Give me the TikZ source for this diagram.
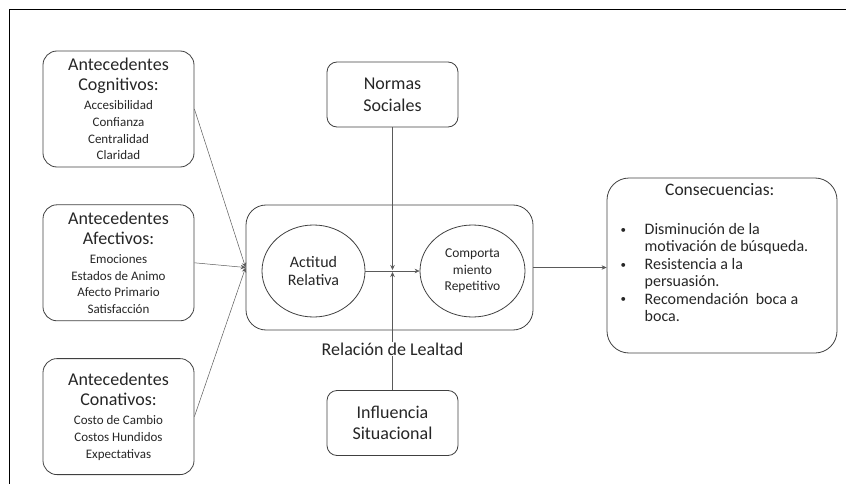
\documentclass[tikz,border=0pt]{standalone}
\usepackage{fontspec}
\setmainfont{Carlito}
\usetikzlibrary{arrows.meta,shapes,positioning,calc}
\definecolor{boxgray}{HTML}{404040}
\definecolor{linegray}{HTML}{5A5A5A}
\definecolor{txtgray}{HTML}{262626}
\newcommand{\ttlfont}{\fontsize{18}{20}\selectfont}
\newcommand{\itm}{\makebox[27pt][l]{\hspace*{3pt}\raisebox{1.2pt}{\fontsize{11}{11}\selectfont\textbullet}}}
\tikzset{
    antbox/.style={
        rectangle,
        rounded corners=14pt,
        draw=boxgray,
        line width=0.8pt,
        minimum width=151pt,
        minimum height=116pt,
        align=center,
        text=txtgray,
        font=\fontsize{13}{16.7}\selectfont,
    },
    factbox/.style={
        rectangle,
        rounded corners=10pt,
        draw=boxgray,
        line width=0.8pt,
        minimum width=131pt,
        minimum height=65pt,
        align=center,
        text=txtgray,
        font=\fontsize{18}{21.7}\selectfont,
    },
    loopbox/.style={
        ellipse,
        draw=boxgray,
        line width=0.8pt,
        inner sep=0pt,
        minimum height=92pt,
        align=center,
        text=txtgray,
    },
    link/.style={
        ->,
        color=linegray,
        line width=0.5pt,
    },
}

\begin{document}
\begin{tikzpicture}[x=1pt,y=-1pt,>={Stealth[length=5pt,width=4.5pt]},auto]
    \useasboundingbox (0,0) rectangle (846,484);
    \draw[line width=1.5pt] (9.5,484) -- (9.5,9.5) -- (846,9.5);
    % antecedentes
    \node [antbox] (cog) at (118.5,109) {{\ttlfont Antecedentes}\\[3.3pt]{\ttlfont Cognitivos:}\\[2.3pt]Accesibilidad\\Confianza\\Centralidad\\Claridad};
    \node [antbox] (afe) [below=37pt of cog] {{\ttlfont Antecedentes}\\[3.3pt]{\ttlfont Afectivos:}\\[2.3pt]Emociones\\Estados de Animo\\Afecto Primario\\Satisfacción};
    \node [antbox] (con) [below=37pt of afe] {{\ttlfont Antecedentes}\\[3.3pt]{\ttlfont Conativos:}\\[2.3pt]Costo de Cambio\\Costos Hundidos\\Expectativas};
    % relacion de lealtad
    \node [rectangle, rounded corners=20pt, draw=boxgray, line width=0.8pt, minimum width=287pt, minimum height=125pt] (rel) at (389.5,267.5) {};
    \node [loopbox, minimum width=103pt, font=\fontsize{16}{18.7}\selectfont] (act) at (313.5,271) {Actitud\\Relativa};
    \node [loopbox, minimum width=105pt, font=\fontsize{13.5}{16.7}\selectfont] (com) at (472.5,271) {Comporta\\miento\\Repetitivo};
    \node [factbox] (norm) at (392.5,94.5) {Normas\\Sociales};
    \node [factbox] (infl) at (392.5,423) {Influencia\\Situacional};
    \node [rectangle, rounded corners=22pt, draw=boxgray, line width=0.8pt, minimum width=230pt, minimum height=175pt, align=left, text=txtgray, font=\fontsize{16}{17.4}\selectfont] (cons) at (722,265.5) {\hspace*{47.5pt}{\fontsize{17.5}{20}\selectfont Consecuencias:}\\[21.6pt]\itm Disminución de la\\\hspace*{27pt}motivación de búsqueda.\rule{18pt}{0pt}\\\itm Resistencia a la\\\hspace*{27pt}persuasión.\\\itm Recomendación\ \ boca a\\\hspace*{27pt}boca.\rule[-26pt]{0pt}{26pt}};
    \coordinate (mid) at (norm.south |- act.east);
    \coordinate (rel-bot) at (rel.south -| norm.south);
    % flechas
    \path[link] (cog.east) edge (rel.west)
                (afe.east) edge (rel.west)
                (con.east) edge (rel.west);
    \path[link] (act) edge (com);
    \path[link] (norm) edge [shorten >=1pt] (mid)
                (infl) edge [shorten >=1pt] (mid);
    \path[link] (rel.east) edge (rel.east -| cons.west);
    \node [fill=white, inner sep=1pt, text=txtgray, font=\fontsize{18}{20}\selectfont] (rel-lbl) [below=11pt of rel-bot] {Relación de Lealtad};
\end{tikzpicture}
\end{document}
